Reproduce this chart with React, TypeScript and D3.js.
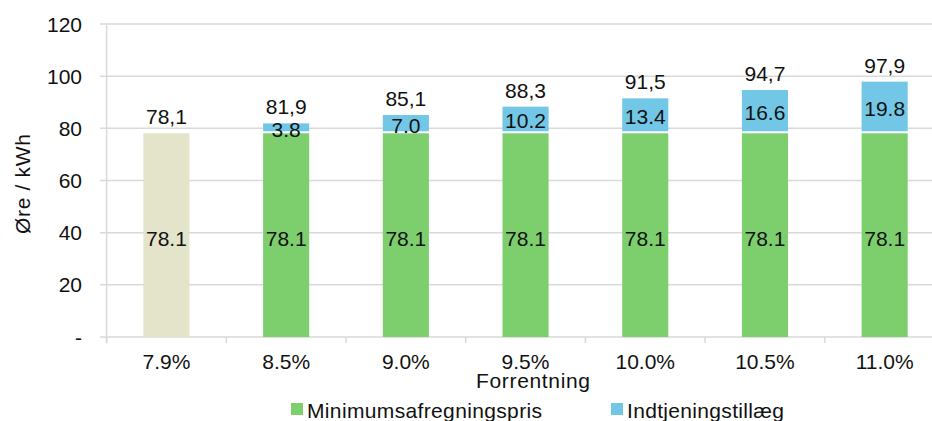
import React, { useEffect, useRef } from 'react';
import * as d3 from 'd3';

const categories = ['7.9%', '8.5%', '9.0%', '9.5%', '10.0%', '10.5%', '11.0%'];
const minimumPrice = [78.1, 78.1, 78.1, 78.1, 78.1, 78.1, 78.1];
const earningsAddon = [0, 3.8, 7.0, 10.2, 13.4, 16.6, 19.8];
const totals = ['78,1', '81,9', '85,1', '88,3', '91,5', '94,7', '97,9'];
const yTicks = [0, 20, 40, 60, 80, 100, 120];
const legendItems = ['Minimumsafregningspris', 'Indtjeningstillæg'];

const WIDTH = 932;
const HEIGHT = 421;
const FONT = '"Liberation Sans", Arial, sans-serif';

const colors = {
  beige: '#e4e4ca',
  green: '#7dcf6e',
  blue: '#72c7e7',
  grid: '#d9d9d9',
  text: '#111',
};

const App = () => {
  const ref = useRef<SVGSVGElement>(null);

  useEffect(() => {
    const svg = d3.select(ref.current);
    svg.selectAll('*').remove();

    const plotLeft = 106.6;
    const plotRight = 944.5;
    const fs = 21;

    const x = d3
      .scaleBand<string>()
      .domain(categories)
      .range([plotLeft, plotRight])
      .paddingInner(0.615)
      .paddingOuter(0.3075);

    const y = d3.scaleLinear().domain([0, 120]).range([337, 24]);

    // gridlines + y tick labels
    yTicks.forEach((t) => {
      svg
        .append('line')
        .attr('x1', 100)
        .attr('x2', plotRight)
        .attr('y1', y(t))
        .attr('y2', y(t))
        .attr('stroke', colors.grid)
        .attr('stroke-width', 1.5);

      svg
        .append('text')
        .attr('x', 82)
        .attr('y', y(t))
        .attr('text-anchor', 'end')
        .attr('dominant-baseline', 'central')
        .attr('font-size', fs)
        .attr('fill', colors.text)
        .text(t === 0 ? '-' : String(t));
    });

    // vertical axis line
    svg
      .append('line')
      .attr('x1', plotLeft)
      .attr('x2', plotLeft)
      .attr('y1', y(120))
      .attr('y2', y(0) + 6)
      .attr('stroke', colors.grid)
      .attr('stroke-width', 1.5);

    // x tick marks at band boundaries
    const step = x.step();
    d3.range(categories.length + 1).forEach((i) => {
      const tx = plotLeft + i * step;
      svg
        .append('line')
        .attr('x1', tx)
        .attr('x2', tx)
        .attr('y1', y(0))
        .attr('y2', y(0) + 6)
        .attr('stroke', colors.grid)
        .attr('stroke-width', 1.5);
    });

    const bw = x.bandwidth();

    categories.forEach((c, i) => {
      const x0 = x(c)!;
      const cx = x0 + bw / 2;
      const base = minimumPrice[i];
      const add = earningsAddon[i];

      svg
        .append('rect')
        .attr('x', x0)
        .attr('y', y(base))
        .attr('width', bw)
        .attr('height', y(0) - y(base))
        .attr('fill', i === 0 ? colors.beige : colors.green);

      if (add > 0) {
        svg
          .append('rect')
          .attr('x', x0)
          .attr('y', y(base + add))
          .attr('width', bw)
          .attr('height', y(base) - y(base + add) - 2)
          .attr('fill', colors.blue);

        svg
          .append('text')
          .attr('x', cx)
          .attr('y', (y(base) + y(base + add)) / 2 + 1)
          .attr('text-anchor', 'middle')
          .attr('dominant-baseline', 'central')
          .attr('font-size', fs)
          .attr('fill', colors.text)
          .text(add.toFixed(1));
      }

      svg
        .append('text')
        .attr('x', cx)
        .attr('y', y(base / 2) + 3)
        .attr('text-anchor', 'middle')
        .attr('dominant-baseline', 'central')
        .attr('font-size', fs)
        .attr('fill', colors.text)
        .text(base.toFixed(1));

      svg
        .append('text')
        .attr('x', cx)
        .attr('y', y(base + add) - 9)
        .attr('text-anchor', 'middle')
        .attr('font-size', fs)
        .attr('fill', colors.text)
        .text(totals[i]);

      svg
        .append('text')
        .attr('x', cx)
        .attr('y', 369)
        .attr('text-anchor', 'middle')
        .attr('font-size', fs)
        .attr('fill', colors.text)
        .text(c);
    });

    svg
      .append('text')
      .attr('x', 533)
      .attr('y', 388)
      .attr('text-anchor', 'middle')
      .attr('font-size', fs)
      .attr('textLength', 114)
      .attr('lengthAdjust', 'spacing')
      .attr('fill', colors.text)
      .text('Forrentning');

    svg
      .append('text')
      .attr('transform', `translate(30,184) rotate(-90)`)
      .attr('text-anchor', 'middle')
      .attr('font-size', fs)
      .attr('textLength', 100)
      .attr('lengthAdjust', 'spacing')
      .attr('fill', colors.text)
      .text('Øre / kWh');

    // legend
    const legend = [
      { label: legendItems[0], color: colors.green, x: 291, len: 235 },
      { label: legendItems[1], color: colors.blue, x: 611, len: 157 },
    ];
    legend.forEach((d) => {
      svg
        .append('rect')
        .attr('x', d.x)
        .attr('y', 403)
        .attr('width', 12)
        .attr('height', 12)
        .attr('fill', d.color);
      svg
        .append('text')
        .attr('x', d.x + 16)
        .attr('y', 418)
        .attr('font-size', fs)
        .attr('textLength', d.len)
        .attr('lengthAdjust', 'spacing')
        .attr('fill', colors.text)
        .text(d.label);
    });
  }, []);

  return (
    <svg
      ref={ref}
      width={WIDTH}
      height={HEIGHT}
      style={{ position: 'absolute', left: 0, top: 0, fontFamily: FONT, background: '#fff' }}
    />
  );
};

export default App;
